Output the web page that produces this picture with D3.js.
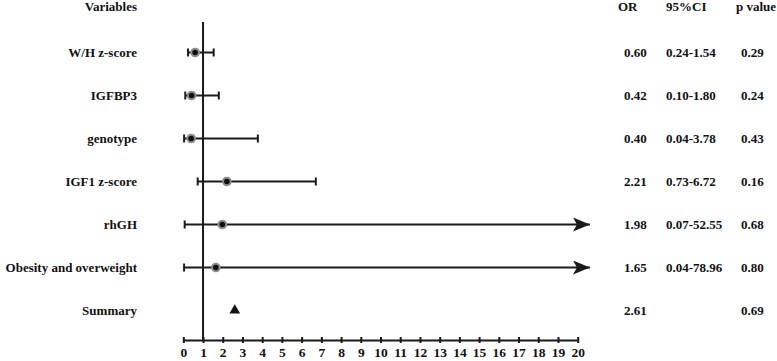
<!DOCTYPE html>
<html>
<head>
<meta charset="utf-8">
<script src="https://cdn.jsdelivr.net/npm/d3@7"></script>
<style>
  body { margin: 0; background: #fff; }
  svg { display: block; }
  text { font-family: "Liberation Serif", "Times New Roman", serif; font-weight: bold; fill: #111; }
</style>
</head>
<body>
<svg id="chart"></svg>
<script>
const variables = ["W/H z-score", "IGFBP3", "genotype", "IGF1 z-score", "rhGH", "Obesity and overweight", "Summary"];
const orValues = [0.60, 0.42, 0.40, 2.21, 1.98, 1.65, 2.61];
const ciLower = [0.24, 0.10, 0.04, 0.73, 0.07, 0.04, null];
const ciUpper = [1.54, 1.80, 3.78, 6.72, 52.55, 78.96, null];
const ciLabels = ["0.24-1.54", "0.10-1.80", "0.04-3.78", "0.73-6.72", "0.07-52.55", "0.04-78.96", ""];
const pValues = ["0.29", "0.24", "0.43", "0.16", "0.68", "0.80", "0.69"];
const xTicks = d3.range(0, 21);

const width = 777;
const height = 361;
const ink = "#1a1a1a";

const data = variables.map((v, i) => ({
  name: v,
  or: orValues[i],
  lo: ciLower[i],
  hi: ciUpper[i],
  ci: ciLabels[i],
  p: pValues[i],
  summary: v === "Summary"
}));

const svg = d3.select("#chart").attr("width", width).attr("height", height);

const x = d3.scaleLinear().domain([0, 20]).range([183.3, 577.7]);
const y = d3.scalePoint().domain(variables).range([52.5, 310.5]);
const axisY = 340;
const arrowTip = 590;

// arrow marker for CIs that run off the scale
svg.append("defs").append("marker")
  .attr("id", "arrow")
  .attr("viewBox", "0 0 17 14")
  .attr("refX", 17).attr("refY", 7)
  .attr("markerWidth", 17).attr("markerHeight", 14)
  .attr("markerUnits", "userSpaceOnUse")
  .attr("orient", "auto")
  .append("path")
  .attr("d", "M0,0 L17,7 L0,14 L4,7 Z")
  .attr("fill", ink);

// x axis
const axis = svg.append("g")
  .attr("transform", `translate(0,${axisY})`)
  .call(d3.axisBottom(x).tickValues(xTicks).tickFormat(d3.format("d")).tickSize(3).tickSizeOuter(0));
axis.select(".domain").attr("stroke", ink).attr("stroke-width", 2);
axis.selectAll(".tick line").attr("stroke", ink).attr("stroke-width", 2).attr("y1", -3).attr("y2", 3);
axis.selectAll(".tick text")
  .attr("y", 7)
  .attr("dy", "0.71em")
  .style("font-family", "'Liberation Serif', 'Times New Roman', serif")
  .style("font-weight", "bold")
  .style("font-size", "13.5px")
  .attr("fill", "#111");

// reference line at OR = 1
svg.append("line")
  .attr("x1", x(1)).attr("x2", x(1))
  .attr("y1", 22).attr("y2", axisY)
  .attr("stroke", ink).attr("stroke-width", 2);

const rows = data.filter((d) => !d.summary);

// whiskers
svg.selectAll(".ci")
  .data(rows)
  .join("line")
  .attr("class", "ci")
  .attr("x1", (d) => x(d.lo))
  .attr("x2", (d) => (d.hi > 20 ? arrowTip : x(d.hi)))
  .attr("y1", (d) => y(d.name))
  .attr("y2", (d) => y(d.name))
  .attr("stroke", ink)
  .attr("stroke-width", 2)
  .attr("marker-end", (d) => (d.hi > 20 ? "url(#arrow)" : null));

// caps
const caps = [];
rows.forEach((d) => {
  caps.push({ name: d.name, v: d.lo });
  if (d.hi <= 20) caps.push({ name: d.name, v: d.hi });
});
svg.selectAll(".cap")
  .data(caps)
  .join("line")
  .attr("class", "cap")
  .attr("x1", (d) => x(d.v)).attr("x2", (d) => x(d.v))
  .attr("y1", (d) => y(d.name) - 4).attr("y2", (d) => y(d.name) + 4)
  .attr("stroke", ink).attr("stroke-width", 2);

// point estimates
svg.selectAll(".halo")
  .data(rows)
  .join("circle")
  .attr("class", "halo")
  .attr("cx", (d) => x(d.or))
  .attr("cy", (d) => y(d.name))
  .attr("r", 4.8)
  .attr("fill", "#8c8c8c");
svg.selectAll(".dot")
  .data(rows)
  .join("circle")
  .attr("class", "dot")
  .attr("cx", (d) => x(d.or))
  .attr("cy", (d) => y(d.name))
  .attr("r", 2.8)
  .attr("fill", "#111");

// summary triangle
data.filter((d) => d.summary).forEach((d) => {
  svg.append("path")
    .attr("d", d3.symbol().type(d3.symbolTriangle).size(50))
    .attr("transform", `translate(${x(d.or)},${y(d.name)})`)
    .attr("fill", "#111");
});

// headers
const headY = 6;
const headers = [
  { t: "Variables", x: 137, a: "end" },
  { t: "OR", x: 618, a: "start" },
  { t: "95%CI", x: 666, a: "start" },
  { t: "p value", x: 736, a: "start" }
];
svg.selectAll(".head")
  .data(headers)
  .join("text")
  .attr("class", "head")
  .attr("x", (d) => d.x)
  .attr("y", headY)
  .attr("dy", "0.35em")
  .attr("text-anchor", (d) => d.a)
  .attr("font-size", "13px")
  .text((d) => d.t);

// table columns
const cols = [
  { key: "name", x: 137, a: "end" },
  { key: "orText", x: 624, a: "start" },
  { key: "ci", x: 666, a: "start" },
  { key: "p", x: 741, a: "start" }
];
data.forEach((d) => { d.orText = d.or.toFixed(2); });
cols.forEach((c) => {
  svg.selectAll(".col-" + c.key)
    .data(data)
    .join("text")
    .attr("class", "col-" + c.key)
    .attr("x", c.x)
    .attr("y", (d) => y(d.name))
    .attr("dy", "0.35em")
    .attr("text-anchor", c.a)
    .attr("font-size", "13px")
    .text((d) => d[c.key]);
});
</script>
</body>
</html>
